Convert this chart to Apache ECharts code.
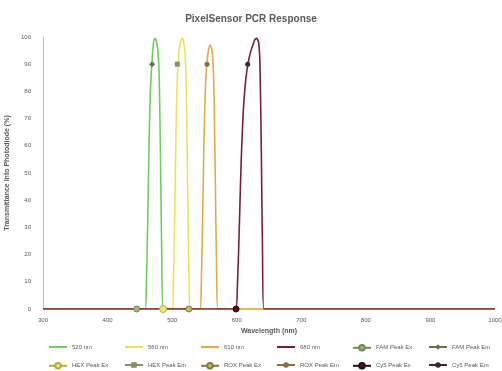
<!DOCTYPE html>
<html>
<head>
<meta charset="utf-8">
<script src="https://cdn.jsdelivr.net/npm/echarts@6/dist/echarts.min.js"></script>
<style>
  html, body { margin: 0; padding: 0; background: #fff; }
  #chart { width: 502px; height: 371px; }
</style>
</head>
<body>
<div id="chart"></div>
<script>
// filter transmission curves (wavelength nm, transmittance %)
const wlGreen = [300, 458, 460, 462, 464, 466, 468, 470, 472, 474, 476, 478, 480, 482, 484, 486, 1000];
const tGreen  = [0, 0, 8, 30, 58, 78, 88, 95, 99, 99.5, 98, 95, 85, 55, 18, 0, 0];

const wlYellow = [300, 500, 502, 504, 506, 508, 510, 512, 514, 516, 518, 520, 522, 524, 526, 528, 1000];
const tYellow  = [0, 0, 10, 35, 65, 85, 93, 97, 99, 99.5, 98, 94, 80, 45, 12, 0, 0];

const wlOrange = [300, 543, 545, 547, 549, 551, 553, 555, 557, 559, 561, 563, 565, 567, 569, 571, 1000];
const tOrange  = [0, 0, 8, 30, 58, 78, 88, 93, 96, 97, 96, 92, 78, 45, 12, 0, 0];

const wlRed = [300, 598, 601, 604, 607, 610, 613, 616, 619, 622, 625, 628, 631, 634, 636, 638, 640, 642, 1000];
const tRed  = [0, 0, 8, 30, 55, 72, 82, 88, 92, 95, 97, 99, 99.5, 98, 90, 60, 20, 0, 0];

const curveNames = ['520 nm', '560 nm', '610 nm', '680 nm'];

// dye peak markers
const dyes = ['FAM', 'HEX', 'ROX', 'Cy5'];
const exWl = [445, 486, 526, 599];
const exLevel = [0, 0, 0, 0];
const emWl = [469, 508, 554, 617];
const emLevel = [90, 90, 90, 90];

const curveColors = ['#6fcf5a', '#e9e35a', '#e3a94a', '#7a1f36'];

const zip = (xs, ys) => xs.map((x, i) => [x, ys[i]]);

const curves = [[wlGreen, tGreen], [wlYellow, tYellow], [wlOrange, tOrange], [wlRed, tRed]];

const series = curves.map((c, i) => ({
  name: curveNames[i],
  type: 'line',
  data: zip(c[0], c[1]),
  symbol: 'none',
  smooth: 0.2,
  lineStyle: { color: curveColors[i], width: 1.6 },
  itemStyle: { color: curveColors[i] },
  z: 2
}));

const exStyles = [
  { symbol: 'circle', size: 6, color: '#9dbb7a', border: '#6e8a55' },
  { symbol: 'circle', size: 7, color: '#f0ea70', border: '#b7ad3a' },
  { symbol: 'circle', size: 6, color: '#c9b95a', border: '#8a7a35' },
  { symbol: 'circle', size: 6, color: '#5a0d18', border: '#2a0a0a' }
];
const emStyles = [
  { symbol: 'diamond', size: 6, color: '#6b6b55' },
  { symbol: 'rect', size: 5, color: '#8c8c6a' },
  { symbol: 'circle', size: 5, color: '#8b7040' },
  { symbol: 'circle', size: 5, color: '#3a2a2a' }
];

dyes.forEach((d, i) => {
  series.push({
    name: d + ' Peak Ex',
    type: 'line',
    data: [[exWl[i], exLevel[i]]],
    symbol: exStyles[i].symbol,
    symbolSize: exStyles[i].size,
    showSymbol: true,
    lineStyle: { color: exStyles[i].border, width: 1 },
    itemStyle: { color: exStyles[i].color, borderColor: exStyles[i].border, borderWidth: 1 },
    z: 5
  });
  series.push({
    name: d + ' Peak Em',
    type: 'line',
    data: [[emWl[i], emLevel[i]]],
    symbol: emStyles[i].symbol,
    symbolSize: emStyles[i].size,
    showSymbol: true,
    lineStyle: { color: emStyles[i].color, width: 1 },
    itemStyle: { color: emStyles[i].color },
    z: 5
  });
});

const legendRows = [
  ['520 nm', '560 nm', '610 nm', '680 nm', 'FAM Peak Ex', 'FAM Peak Em'],
  ['HEX Peak Ex', 'HEX Peak Em', 'ROX Peak Ex', 'ROX Peak Em', 'Cy5 Peak Ex', 'Cy5 Peak Em']
];

const font = '"Liberation Sans", Arial, sans-serif';

// one legend per entry so the columns line up evenly
const legends = [];
legendRows.forEach((row, r) => {
  row.forEach((name, c) => {
    const isCurve = curveNames.indexOf(name) >= 0;
    legends.push({
      left: 43 + c * 76,
      top: 339 + r * 18,
      itemWidth: 18,
      itemHeight: 7,
      data: [isCurve ? { name: name, itemStyle: { opacity: 0 } } : name],
      textStyle: { color: '#595959', fontSize: 6, fontFamily: font }
    });
  });
});

const chart = echarts.init(document.getElementById('chart'));
chart.setOption({
  animation: false,
  backgroundColor: '#ffffff',
  title: {
    text: 'PixelSensor PCR Response',
    left: 'center',
    top: 9,
    textStyle: { color: '#595959', fontSize: 10, fontWeight: 'bold', fontFamily: font }
  },
  grid: { left: 43, right: 7, top: 37, bottom: 62, outerBoundsMode: 'none', containLabel: false },
  legend: legends,
  xAxis: {
    type: 'value',
    min: 300,
    max: 1000,
    interval: 100,
    name: 'Wavelength (nm)',
    nameLocation: 'middle',
    nameGap: 19,
    nameTextStyle: { color: '#595959', fontSize: 7, fontWeight: 'bold', fontFamily: font },
    axisLine: { show: false },
    axisTick: { show: false },
    splitLine: { show: false },
    axisLabel: { color: '#595959', fontSize: 6, margin: 8, fontFamily: font, formatter: v => String(v) }
  },
  yAxis: {
    type: 'value',
    min: 0,
    max: 100,
    interval: 10,
    name: 'Transmittance Into Photodiode (%)',
    nameLocation: 'middle',
    nameGap: 26,
    nameTextStyle: { color: '#595959', fontSize: 7, fontWeight: 'bold', fontFamily: font },
    axisLine: { show: true, lineStyle: { color: '#bfbfbf', width: 1 } },
    axisTick: { show: false },
    splitLine: { show: false },
    axisLabel: { color: '#595959', fontSize: 6, margin: 12, fontFamily: font }
  },
  series: series
});
</script>
</body>
</html>
